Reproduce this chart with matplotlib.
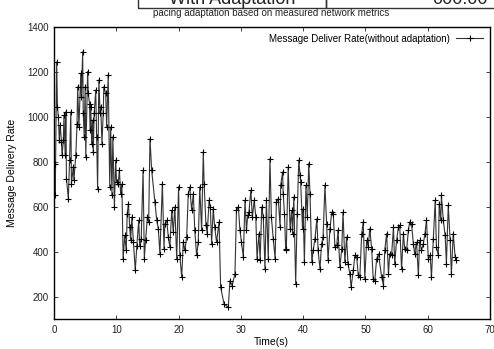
import matplotlib
matplotlib.use("Agg")
import matplotlib.pyplot as plt
from matplotlib.patches import Rectangle

plt.rcParams['font.family'] = ['Liberation Sans', 'DejaVu Sans']

# ===== data =====
time_s = [0.16, 0.2, 0.43, 0.55, 0.7, 0.85, 1.0, 1.2, 1.3, 1.5, 1.6, 1.8, 1.9, 2.0, 2.3, 2.5,
          2.7, 2.8, 3.1, 3.2, 3.5, 3.7, 3.8, 4.0, 4.3, 4.4, 4.6, 4.7, 4.85, 5.0, 5.1, 5.4,
          5.5, 5.7, 5.8, 5.9, 6.05, 6.2, 6.3, 6.45, 6.7, 6.85, 7.0, 7.2, 7.4, 7.5, 7.7, 7.9,
          8.0, 8.3, 8.45, 8.7, 8.95, 9.1, 9.3, 9.45, 9.7, 9.9, 10.05, 10.3, 10.5, 10.7, 10.9,
          11.1, 11.35, 11.6, 11.75, 11.95, 12.15, 12.3, 12.5, 12.75, 13.05, 13.3, 13.6, 13.75,
          14.0, 14.3, 14.5, 14.7, 15.0, 15.2,
          15.41, 15.68, 16.2, 16.5, 16.75, 17.0, 17.4, 17.66, 17.8, 18.1, 18.35, 18.6, 18.9,
          19.15, 19.4, 19.7, 20.0, 20.2, 20.5, 20.76, 21.0, 21.3, 21.56, 21.8, 22.1, 22.37,
          22.6, 22.9, 23.16, 23.4, 23.7, 23.97, 24.1, 24.4, 24.6, 24.9, 25.1, 25.3, 25.57,
          25.8, 26.1, 26.5, 26.75, 27.3, 27.98, 28.25, 28.6, 29.05, 29.3, 29.6, 29.85, 30.1,
          30.4, 30.66, 30.9, 31.1, 31.3, 31.6, 31.85, 32.15, 32.4, 32.6, 32.9, 33.1, 33.35,
          33.6, 33.87, 34.1, 34.4,
          34.67, 34.9, 35.2, 35.5, 35.7, 36.0, 36.3, 36.4, 36.7, 36.8, 37.0, 37.2, 37.3, 37.6,
          37.9, 38.15, 38.3, 38.5, 38.8, 39.05, 39.3, 39.5, 39.6, 39.9, 40.0, 40.2, 40.45,
          40.66, 40.9, 41.1, 41.4, 41.6, 41.9, 42.2, 42.4, 42.7, 42.96, 43.2, 43.5, 43.77,
          44.0, 44.3, 44.6, 44.84, 45.1, 45.4, 45.6, 45.9, 46.2, 46.4, 46.7, 46.97, 47.2,
          47.5, 47.7, 48.05, 48.3, 48.6, 48.85, 49.1, 49.4, 49.65, 49.9, 50.2, 50.45, 50.7,
          51.0, 51.25, 51.5, 51.8, 52.1,
          52.6, 52.9, 53.1, 53.4, 53.7, 53.9, 54.2, 54.5, 54.7, 55.0, 55.3, 55.5, 55.8, 56.1,
          56.3, 56.6, 56.9, 57.1, 57.4, 57.7, 57.9, 58.2, 58.5, 58.7, 59.0, 59.3, 59.55, 59.8,
          60.1, 60.4, 60.6, 60.9, 61.2, 61.4, 61.7, 61.85, 62.1, 62.2, 62.5, 62.8, 63.0, 63.3,
          63.6, 63.8, 64.1, 64.4, 64.6]

delivery_rate = [792, 650, 1245, 1045, 1000, 896, 963, 889, 829, 896, 1007, 829, 1022, 725, 636, 807,
                 1022, 703, 777, 718, 829, 970, 1134, 955, 1193, 1089, 1290, 1015, 911, 1134, 822, 1201,
                 1104, 1059, 940, 1045, 881, 985, 844, 1015, 1119, 911, 680, 1164, 1015, 1045, 881, 1015,
                 1134, 1104, 955, 1186, 688, 955, 650, 911, 598, 807, 710, 703, 762, 658, 700,
                 368, 472, 405, 569, 613, 509, 450, 554, 442, 316, 427, 539, 427,
                 457, 762, 368, 450, 554, 531,
                 903, 762, 621, 539, 502, 390, 703, 413, 524, 539, 465, 420, 584,
                 487, 599, 368, 688, 383, 286, 442, 405, 465, 658, 688, 584, 658,
                 495, 383, 442, 688, 495, 844, 703, 517, 480, 628, 599, 435, 591,
                 509, 442, 532, 242, 167, 152, 271, 249, 301, 584, 599, 495, 442,
                 376, 628, 495, 561, 576, 673, 554, 628, 554, 368, 480, 361, 599,
                 554, 323, 628, 368,
                 814, 554, 457, 368, 621, 636, 509, 695, 755, 658, 569, 405, 413, 777,
                 502, 584, 480, 643, 257, 569, 807, 740, 710, 502, 591, 353, 695,
                 554, 792, 658, 353, 405, 457, 546, 405, 323, 435, 465, 695, 524,
                 361, 502, 576, 569, 420, 428, 495, 331, 413, 576, 353, 465, 346,
                 301, 242, 316, 383, 376, 294, 286, 480, 532, 279, 450, 420, 502,
                 413, 279, 271, 368, 390,
                 286, 249, 405, 480, 301, 390, 383, 509, 346, 450, 509, 517, 323, 480,
                 413, 405, 495, 532, 524, 435, 390, 442, 294, 450, 405, 435, 480, 539,
                 368, 383, 286, 457, 628, 420, 383, 613, 539, 651, 539, 472, 346, 606,
                 450, 301, 480, 376, 361]

series_label = "Message Deliver Rate(without adaptation)"

# ===== figure =====
fig = plt.figure(figsize=(4.94, 3.49), dpi=100)
ax = fig.add_axes([54 / 494, 1 - 319 / 349, (490 - 54) / 494, (319 - 27) / 349])

ax.plot(time_s, delivery_rate, color="#333333", linewidth=0.8,
        marker="+", markersize=4, markeredgecolor="black", markeredgewidth=0.8,
        label=series_label)

ax.set_xlim(0, 70)
ax.set_ylim(100, 1400)
ax.set_xticks(range(0, 71, 10))
ax.set_yticks(range(200, 1401, 200))
ax.tick_params(direction="in", length=3, width=0.6, labelsize=7, top=True, right=True,
               pad=4, colors="#222222")
for sp in ax.spines.values():
    sp.set_linewidth(1.0)

ax.set_xlabel("Time(s)", fontsize=7.5, va="center")
ax.set_ylabel("Message Delivery Rate", fontsize=7.5, va="center")
ax.xaxis.set_label_coords((271 - 54) / 436, -(342 - 319) / 292)
ax.yaxis.set_label_coords(-(54 - 12) / 436, 0.5)

ax.legend(loc="upper right", frameon=False, fontsize=7, markerfirst=False,
          handlelength=2.8, borderaxespad=0.3, handletextpad=0.6)

# ===== header strip cut off at the top =====
fig.patches.append(Rectangle((138 / 494, 1 - 8 / 349), (326 - 138) / 494, 20 / 349,
                             transform=fig.transFigure, fill=False, edgecolor="#333333",
                             linewidth=1.0))
fig.patches.append(Rectangle((326 / 494, 1 - 8 / 349), 200 / 494, 20 / 349,
                             transform=fig.transFigure, fill=False, edgecolor="#333333",
                             linewidth=1.0))
fig.text(232 / 494, 1 - 4.5 / 349, "With Adaptation", ha="center", va="baseline",
         fontsize=13, color="#222222")
fig.text(488 / 494, 1 - 4.5 / 349, "000:00", ha="right", va="baseline",
         fontsize=13, color="#222222")
fig.text(271 / 494, 1 - 12.5 / 349, "pacing adaptation based on measured network metrics",
         ha="center", va="center", fontsize=7, color="#222222")

fig.savefig("out.png", dpi=100)
